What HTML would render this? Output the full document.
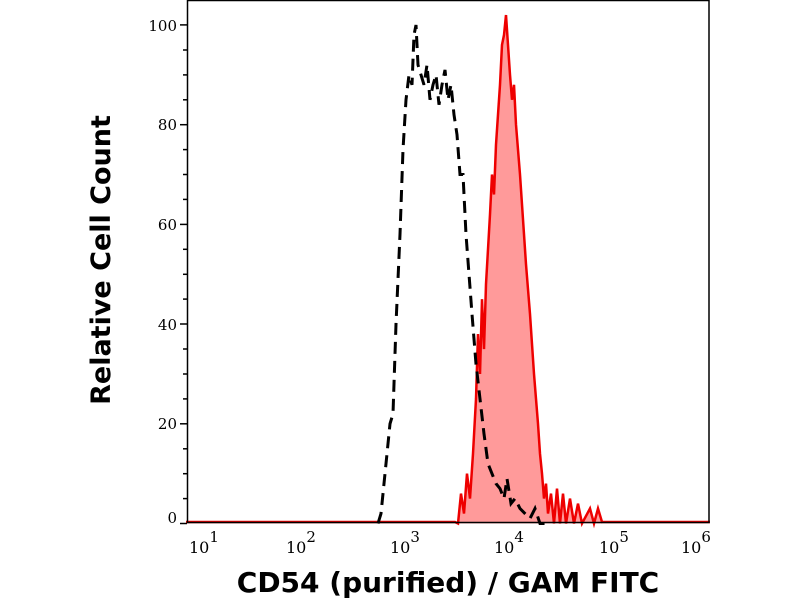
<!DOCTYPE html>
<html><head><style>body{margin:0;background:#fff}svg{display:block}</style></head><body>
<svg width="800" height="600" viewBox="0 0 800 600" xmlns="http://www.w3.org/2000/svg">
<rect width="800" height="600" fill="#fff"/>
<g transform="matrix(1,0,0,-4.985,0,523.5)">
<polygon fill="#ff9a9a" stroke="none" points="186,0 455,0 458,0 461,6 464,2 467,10 470,5 473,14 476,25 478,38 480,30 482,45 484,35 486,48 488,55 490,62 492,70 494,66 496,76 498,82 500,88 502,96 504,98 506,102 508,96 510,90 512,85 514,88 516,80 518,75 520,70 522,64 524,58 526,52 528,47 530,42 532,36 534,30 536,25 538,20 540,14 542,10 544,5 546,8 548,2 551,6 554,0 557,7 560,0 563,6 566,0 570,5 574,0 578,4 582,0 590,3 594,0 598,3 602,0 710,0"/>
<polyline fill="none" stroke="#e00" stroke-width="2.5" vector-effect="non-scaling-stroke" points="186,0.3 455,0.3 458,0 461,6 464,2 467,10 470,5 473,14 476,25 478,38 480,30 482,45 484,35 486,48 488,55 490,62 492,70 494,66 496,76 498,82 500,88 502,96 504,98 506,102 508,96 510,90 512,85 514,88 516,80 518,75 520,70 522,64 524,58 526,52 528,47 530,42 532,36 534,30 536,25 538,20 540,14 542,10 544,5 546,8 548,2 551,6 554,0 557,7 560,0 563,6 566,0 570,5 574,0 578,4 582,0 590,3 594,0 598,3 602,0.3 710,0.3"/>
<polyline fill="none" stroke="#000" stroke-width="3" stroke-dasharray="12,7" vector-effect="non-scaling-stroke" points="378,0 381,2 385,10 390,20 393,22 396,40 400,58 403,75 406,85 409,90 412,88 414,98 416,100 418,92 421,90 424,88 427,92 430,85 433,88 436,90 439,84 442,88 445,91 448,85 451,88 454,82 457,78 460,70 463,70 466,58 469,50 472,42 476,32 480,25 484,18 488,12 492,10 496,8 500,7 504,5 507,9 511,4 515,5 520,3 525,2 530,1 535,3 540,0 545,0"/>
</g>
<rect x="187.5" y="0.5" width="521.5" height="522" fill="none" stroke="#000" stroke-width="1.5"/>
<g stroke="#000" stroke-width="1.5">
<line x1="180" y1="523.5" x2="187" y2="523.5"/><line x1="180" y1="423.8" x2="187" y2="423.8"/><line x1="180" y1="324" x2="187" y2="324"/><line x1="180" y1="224.4" x2="187" y2="224.4"/><line x1="180" y1="124.7" x2="187" y2="124.7"/><line x1="180" y1="24.9" x2="187" y2="24.9"/>
<line x1="183" y1="498.6" x2="187" y2="498.6"/><line x1="183" y1="473.7" x2="187" y2="473.7"/><line x1="183" y1="448.8" x2="187" y2="448.8"/><line x1="183" y1="398.9" x2="187" y2="398.9"/><line x1="183" y1="374" x2="187" y2="374"/><line x1="183" y1="349" x2="187" y2="349"/><line x1="183" y1="299.1" x2="187" y2="299.1"/><line x1="183" y1="274.3" x2="187" y2="274.3"/><line x1="183" y1="249.3" x2="187" y2="249.3"/><line x1="183" y1="199.4" x2="187" y2="199.4"/><line x1="183" y1="174.5" x2="187" y2="174.5"/><line x1="183" y1="149.6" x2="187" y2="149.6"/><line x1="183" y1="99.8" x2="187" y2="99.8"/><line x1="183" y1="74.9" x2="187" y2="74.9"/><line x1="183" y1="50" x2="187" y2="50"/>
</g>
<g stroke="#000" stroke-width="1.2" id="xt"></g>
<g font-family="DejaVu Serif, serif" font-size="15" fill="#000" text-anchor="end">
<text x="177" y="523">0</text><text x="177" y="429">20</text><text x="177" y="330">40</text><text x="177" y="230">60</text><text x="177" y="130">80</text><text x="177" y="31">100</text>
</g>
<g font-family="DejaVu Serif, serif" font-size="16" fill="#000">
<text x="189" y="553">10<tspan font-size="15" dy="-11">1</tspan></text>
<text x="286" y="553">10<tspan font-size="15" dy="-11">2</tspan></text>
<text x="390" y="553">10<tspan font-size="15" dy="-11">3</tspan></text>
<text x="494" y="553">10<tspan font-size="15" dy="-11">4</tspan></text>
<text x="599" y="553">10<tspan font-size="15" dy="-11">5</tspan></text>
<text x="681" y="553">10<tspan font-size="15" dy="-11">6</tspan></text>
</g>
<text x="448" y="592" text-anchor="middle" font-family="DejaVu Sans, sans-serif" font-weight="bold" font-size="28">CD54 (purified) / GAM FITC</text>
<text transform="translate(110,260) rotate(-90)" text-anchor="middle" font-family="DejaVu Sans, sans-serif" font-weight="bold" font-size="27">Relative Cell Count</text>
<script>
var g=document.getElementById('xt'),s='';
var x0=291-104.3;
for(var d=0;d<6;d++){for(var k=1;k<10;k++){var x=x0+104.3*d+104.3*Math.log10(k);if(x<186||x>710)continue;var L=k==1?8:4;s+='<line x1="'+x+'" y1="522" x2="'+x+'" y2="'+(522+L)+'"/>';}}
var x=x0+104.3*5;s+='<line x1="'+x+'" y1="522" x2="'+x+'" y2="530"/>';
g.innerHTML=s;
</script>
</svg>
</body></html>
